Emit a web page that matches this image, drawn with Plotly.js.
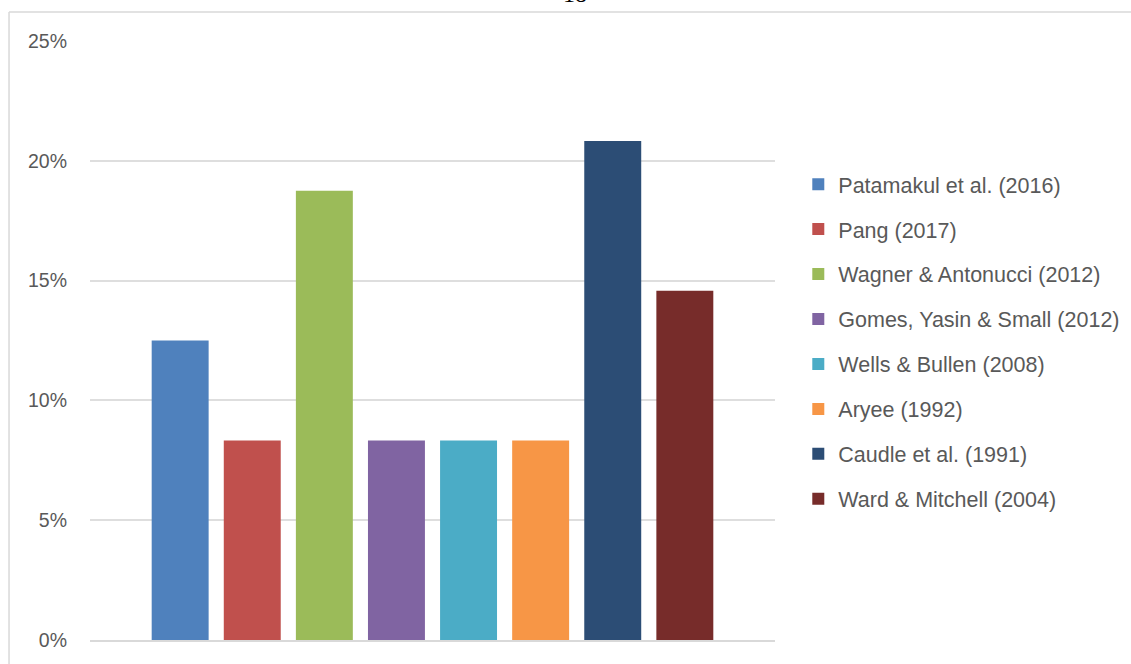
<!DOCTYPE html>
<html>
<head>
<meta charset="utf-8">
<script src="https://cdn.plot.ly/plotly-3.0.1.min.js"></script>
<style>html,body{margin:0;padding:0;background:#fff;}#chart{width:1131px;height:664px;}</style>
</head>
<body>
<div id="chart"></div>
<script>
const studies = ["Patamakul et al. (2016)", "Pang (2017)", "Wagner & Antonucci (2012)", "Gomes, Yasin & Small (2012)", "Wells & Bullen (2008)", "Aryee (1992)", "Caudle et al. (1991)", "Ward & Mitchell (2004)"];
const shares = [0.125, 0.0833, 0.1875, 0.0833, 0.0833, 0.0833, 0.2083, 0.1458];
const colors = ["#4F81BD", "#C0504D", "#9BBB59", "#8064A2", "#4BACC6", "#F79646", "#2C4D75", "#772C2A"];
const yTicks = [0, 0.05, 0.10, 0.15, 0.20, 0.25];
const yTickLabels = ["0%", "5%", "10%", "15%", "20%", "25%"];

const traces = studies.map((s, i) => ({
  type: 'bar', name: s, x: [''], y: [shares[i]], legendgroup: 'g' + i,
  marker: {color: colors[i]}, hoverinfo: 'name+y'
}));

const layout = {
  width: 1131, height: 664,
  margin: {l: 90, r: 356, t: 41, b: 24, pad: 0, autoexpand: false},
  paper_bgcolor: '#fff', plot_bgcolor: '#fff',
  barmode: 'group', bargap: 0.158, bargroupgap: 0.21,
  showlegend: true,
  legend: {x: 1.034, xanchor: 'left', y: 0.498, yanchor: 'middle',
    font: {family: 'Liberation Sans, Arial, sans-serif', size: 21.5, color: '#595959'},
    tracegroupgap: 14, itemwidth: 30, bgcolor: 'rgba(0,0,0,0)'},
  font: {family: 'Liberation Sans, Arial, sans-serif', color: '#595959'},
  xaxis: {showticklabels: false, showgrid: false, zeroline: false, showline: true,
    linecolor: '#d9d9d9', linewidth: 2, fixedrange: true},
  yaxis: {range: [0, 0.25], tickvals: yTicks, ticktext: yTickLabels,
    showgrid: true, gridcolor: '#dedede', gridwidth: 2, zeroline: false,
    showline: false, ticks: '', ticklen: 0, ticklabelstandoff: 22,
    tickfont: {size: 19.5, color: '#595959'}, automargin: false},
  shapes: [
    {type: 'line', xref: 'paper', yref: 'paper', x0: -0.1182, x1: -0.1182, y0: 1.0484, y1: -0.05, line: {color: '#d9d9d9', width: 1.5}},
    {type: 'line', xref: 'paper', yref: 'paper', x0: -0.1182, x1: 1.52, y0: 1.0484, y1: 1.0484, line: {color: '#d9d9d9', width: 1.5}}
  ],
  annotations: [
    {text: '18', xref: 'paper', yref: 'paper', x: 0.708, y: 1.0535, xanchor: 'center', yanchor: 'bottom',
     showarrow: false, font: {family: 'Liberation Serif, serif', size: 24, color: '#000'}}
  ]
};

Plotly.newPlot('chart', traces, layout, {displayModeBar: false, staticPlot: true});
</script>
</body>
</html>
